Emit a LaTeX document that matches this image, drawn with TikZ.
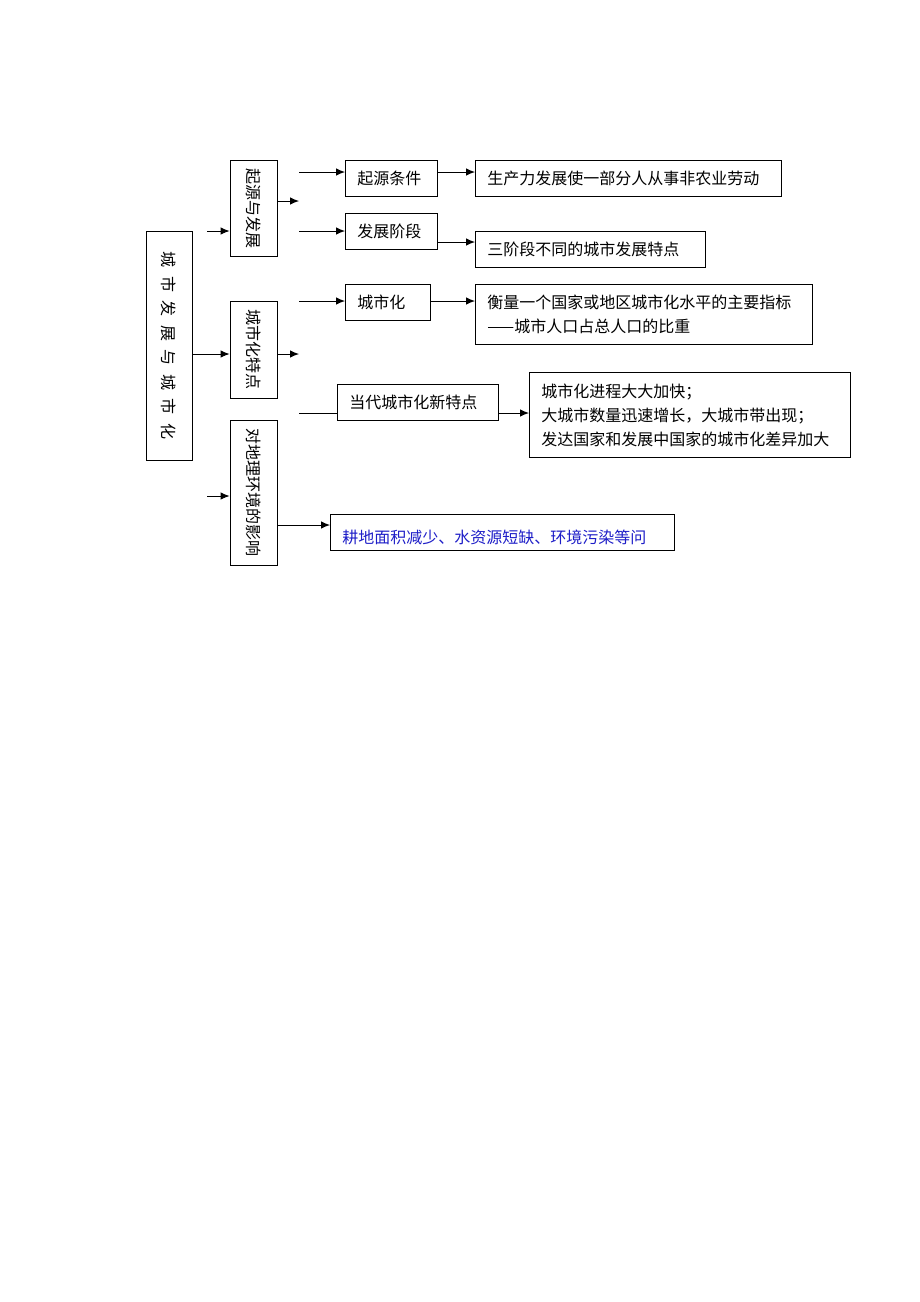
\documentclass[tikz,border=0pt]{standalone}
\usepackage{graphicx}
\usepackage{fontspec}
\setmainfont{Noto Sans CJK SC}
\usetikzlibrary{arrows.meta}
\definecolor{txtblue}{RGB}{30,30,200}
\begin{document}
\begin{tikzpicture}[x=1pt,y=-1pt,
  box/.style={draw,line width=0.9pt,inner sep=0pt,font=\fontsize{16}{24}\selectfont},
  tbox/.style={box,anchor=north west,inner xsep=12pt,align=left,text width=#1},
  arr/.style={line width=0.9pt,-{Latex[length=9pt,width=7.5pt]}},
  ln/.style={line width=0.9pt}]
\useasboundingbox[fill=white] (0,0) rectangle (920,1302);

% vertical boxes
\node[box,minimum width=46pt,minimum height=229pt] (main) at (169,345.5)
  {\rotatebox{-90}{城\kern8.5pt 市\kern8.5pt 发\kern8.5pt 展\kern8.5pt 与\kern8.5pt 城\kern8.5pt 市\kern8.5pt 化}};
\node[box,minimum width=47pt,minimum height=96pt] (b1) at (253.5,208) {\rotatebox{-90}{起源与发展}};
\node[box,minimum width=47pt,minimum height=97pt] (b2) at (253.5,349.5) {\rotatebox{-90}{城市化特点}};
\node[box,minimum width=47pt,minimum height=145pt] (b3) at (253.5,492.5) {\rotatebox{-90}{对地理环境的影响}};

% second column
\node[tbox=68pt,minimum height=36pt] (c1) at (345,160) {起源条件};
\node[tbox=68pt,minimum height=36pt] (c2) at (345,213) {发展阶段};
\node[tbox=61pt,minimum height=36pt] (c3) at (345,284) {城市化};
\node[tbox=137pt,minimum height=36pt] (c4) at (337,384) {当代城市化新特点};

% third column
\node[tbox=282pt,minimum height=36pt] (d1) at (475,160) {生产力发展使一部分人从事非农业劳动};
\node[tbox=206pt,minimum height=36pt] (d2) at (475,231) {三阶段不同的城市发展特点};
\node[tbox=313pt,minimum height=60pt] (d3) at (475,284) {衡量一个国家或地区城市化水平的主要指标\\——城市人口占总人口的比重};
\node[tbox=297pt,minimum height=85pt] (d4) at (529,372) {城市化进程大大加快；\\大城市数量迅速增长，大城市带出现；\\发达国家和发展中国家的城市化差异加大};
\node[tbox=320pt,minimum height=36pt,text=txtblue] (e1) at (330,514) {\raisebox{-5pt}[\height][\depth]{耕地面积减少、水资源短缺、环境污染等问}};

% connectors
\coordinate (p1) at (207,231);
\coordinate (p2) at (0,354);
\coordinate (p3) at (207,496);
\coordinate (q1) at (299,201);
\coordinate (q2) at (299,354);
\coordinate (r1) at (299,172);
\coordinate (r2) at (299,231);
\coordinate (r3) at (299,301);
\coordinate (r4) at (299,413);
\coordinate (s2) at (0,242);
\coordinate (s5) at (0,525);

\draw[arr] (p1) -- (b1.west |- p1);
\draw[arr] (main.east |- p2) -- (b2.west |- p2);
\draw[arr] (p3) -- (b3.west |- p3);
\draw[arr] (b1.east |- q1) -- (q1);
\draw[arr] (b2.east |- q2) -- (q2);
\draw[arr] (r1) -- (c1.west |- r1);
\draw[arr] (r2) -- (c2.west |- r2);
\draw[arr] (r3) -- (c3.west |- r3);
\draw[ln] (r4) -- (c4.west |- r4);
\draw[arr] (c1.east |- r1) -- (d1.west |- r1);
\draw[arr] (c2.east |- s2) -- (d2.west |- s2);
\draw[arr] (c3.east |- r3) -- (d3.west |- r3);
\draw[arr] (c4.east |- r4) -- (d4.west |- r4);
\draw[arr] (b3.east |- s5) -- (e1.west |- s5);
\end{tikzpicture}
\end{document}
